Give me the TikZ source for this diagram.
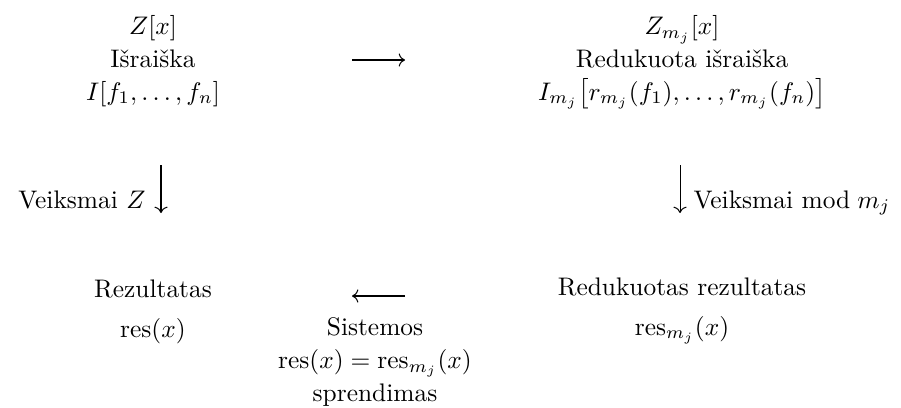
\documentclass[tikz,border=0pt]{standalone}
\usepackage{amsmath}
\usetikzlibrary{arrows.meta, positioning}
\tikzstyle{maparrow} = [-{Computer Modern Rightarrow}, line width=0.4pt]
\tikzstyle{block} = [align=center, inner sep=0pt, anchor=base, font=\fontsize{10}{12.8}\selectfont]
\tikzstyle{side} = [inner sep=0pt, anchor=base]

\begin{document}
\begin{tikzpicture}[x=0.3937pt, y=-0.3937pt]
    \useasboundingbox (0,0) rectangle (901,407);

    % top row (base = last line)
    \node[block] (expr) at (153,100)
        {$Z[x]$\\Išraiška\\$I[f_1,\ldots,f_n]$};
    \node[block] (redexpr) at (682,100)
        {$Z_{m_j}[x]$\\Redukuota išraiška\\$I_{m_j}\bigl[r_{m_j}(f_1),\ldots,r_{m_j}(f_n)\bigr]$};

    % bottom row
    \node[block] (result) at (153,337)
        {Rezultatas\\[2.6pt]$\operatorname{res}(x)$};
    \node[block] (system) at (375,401)
        {Sistemos\\$\operatorname{res}(x)=\operatorname{res}_{m_j}(x)$\\sprendimas};
    \node[block] (redresult) at (682,335)
        {Redukuotas rezultatas\\[2.6pt]$\operatorname{res}_{m_j}(x)$};

    % arrow ends
    \coordinate (reduceL) at (352,60);
    \coordinate (reduceR) at (405,60);
    \coordinate (solveR) at (405,296);
    \coordinate (solveL) at (352,296);
    \coordinate (intTop) at (161,165);
    \coordinate (intBot) at (161,213);
    \coordinate (modTop) at (680,165);
    \coordinate (modBot) at (680,213);

    \draw[maparrow] (reduceL) -- (reduceR);
    \draw[maparrow] (solveR) -- (solveL);
    \draw[maparrow] (intTop) -- (intBot);
    \draw[maparrow] (modTop) -- (modBot);

    \node[side, anchor=base east] (intlabel) at (146,208) {Veiksmai $Z$};
    \node[side, anchor=base west] (modlabel) at (693,208) {Veiksmai $\mathrm{mod}\;m_j$};
\end{tikzpicture}
\end{document}
